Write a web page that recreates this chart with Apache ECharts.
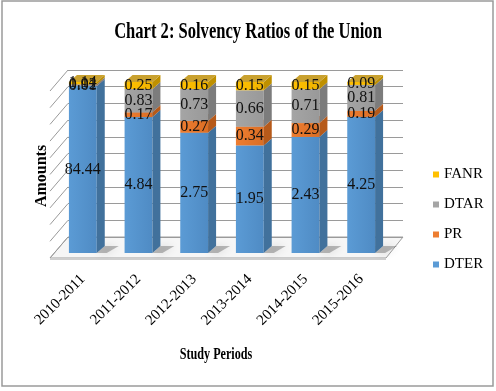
<!DOCTYPE html>
<html><head><meta charset="utf-8">
<script src="https://cdn.jsdelivr.net/npm/echarts@6/dist/echarts.min.js"></script>
<style>html,body{margin:0;padding:0;background:#fff}#c{width:496px;height:391px}</style>
</head><body><div id="c"></div>
<script>
const categories = ['2010-2011','2011-2012','2012-2013','2013-2014','2014-2015','2015-2016'];
const DTER = [84.44, 4.84, 2.75, 1.95, 2.43, 4.25];
const PR   = [0.01, 0.17, 0.27, 0.34, 0.29, 0.19];
const DTAR = [0.92, 0.83, 0.73, 0.66, 0.71, 0.81];
const FANR = [1.14, 0.25, 0.16, 0.15, 0.15, 0.09];
const seriesNames = ['DTER', 'PR', 'DTAR', 'FANR'];
const seriesValues = [DTER, PR, DTAR, FANR];

const faceColors = ['#5B9BD5', '#ED7D31', '#A5A5A5', '#FFC000'];
const faceDark = ['#4F8BC4', '#DB6E24', '#999999', '#F0B400'];
const sideColors = ['#41719C', '#B65A1A', '#7C7C7C', '#BF9000'];
const topColors = ['#6FA8DC', '#F0925A', '#BDBDBD', '#C9A12F'];

const DX = 8, DY = 7, BAR_RATIO = 0.5;
const SERIF = '"Liberation Serif", "Times New Roman", Times, serif';

// 100% stacked boundaries
const totals = categories.map((_, i) => seriesValues.reduce((s, arr) => s + arr[i], 0));
const stackData = [];
const labelData = [];
const cum = categories.map(() => 0);
seriesValues.forEach((arr, si) => {
  const d = [];
  arr.forEach((v, i) => {
    const start = cum[i];
    const end = start + v / totals[i] * 100;
    cum[i] = end;
    d.push([i, start, end, v]);
    labelData.push([i, (start + end) / 2, v, si]);
  });
  stackData.push(d);
});

function renderBar(si) {
  return function (params, api) {
    const cat = api.value(0), s = api.value(1), e = api.value(2);
    const p0 = api.coord([cat, s]);
    const p1 = api.coord([cat, e]);
    const w = api.size([1, 0])[0] * BAR_RATIO;
    const x0 = p0[0] - w / 2, x1 = x0 + w;
    const yb = p0[1], yt = p1[1];
    const children = [];
    if (si === 0) {
      children.push({
        type: 'polygon',
        shape: { points: [[x1, yb], [x1 + DX, yb - DY], [x1 + DX + 14, yb - DY], [x1 + 10, yb]] },
        style: { fill: 'rgba(70,70,70,0.35)', shadowBlur: 8, shadowColor: 'rgba(0,0,0,0.35)' },
        z2: -1
      });
    }
    children.push({
      type: 'rect',
      shape: { x: x0, y: yt, width: w, height: Math.max(yb - yt, 0) },
      style: {
        fill: new echarts.graphic.LinearGradient(0, 0, 1, 0, [
          { offset: 0, color: faceColors[si] }, { offset: 1, color: faceDark[si] }
        ])
      }
    });
    children.push({
      type: 'polygon',
      shape: { points: [[x1, yt], [x1 + DX, yt - DY], [x1 + DX, yb - DY], [x1, yb]] },
      style: { fill: sideColors[si] }
    });
    children.push({
      type: 'polygon',
      shape: { points: [[x0, yt], [x0 + DX, yt - DY], [x1 + DX, yt - DY], [x1, yt]] },
      style: { fill: topColors[si] }
    });
    return { type: 'group', children };
  };
}

const series = seriesNames.map((name, si) => ({
  name,
  type: 'custom',
  xAxisIndex: 0, yAxisIndex: 0,
  z: 2,
  itemStyle: { color: faceColors[si] },
  renderItem: renderBar(si),
  encode: { x: 0, y: [1, 2] },
  data: stackData[si]
}));

series.push({
  name: 'labels',
  type: 'custom',
  xAxisIndex: 0, yAxisIndex: 0,
  z: 5,
  silent: true,
  encode: { x: 0, y: 1 },
  renderItem: function (params, api) {
    const p = api.coord([api.value(0), api.value(1)]);
    return {
      type: 'text',
      style: {
        text: api.value(2).toFixed(2),
        x: p[0], y: p[1],
        align: 'center', verticalAlign: 'middle',
        font: '16px ' + SERIF, fill: '#111'
      }
    };
  },
  data: labelData
});

// decorative 3D walls
const graphics = [];
graphics.push({
  type: 'rect', z: -10,
  shape: { x: 2, y: 1, width: 491, height: 385 },
  style: { fill: 'none', stroke: '#9a9a9a', lineWidth: 1.5 }
});
graphics.push({
  type: 'polygon', z: -5,
  shape: { points: [[50, 258], [386, 258], [403, 237], [68, 237]] },
  style: { fill: '#f6f6f6', stroke: '#a0a0a0', lineWidth: 1 }
});
graphics.push({
  type: 'polygon', z: -5,
  shape: { points: [[50, 258], [386, 258], [386, 260], [50, 260]] },
  style: { fill: '#cfcfcf' }
});
for (let k = 0; k <= 10; k++) {
  const y = 70 + k * 16.7;
  graphics.push({
    type: 'line', z: -5,
    shape: { x1: 68, y1: y, x2: 50, y2: y + 21 },
    style: { stroke: '#9a9a9a', lineWidth: 1 }
  });
}
graphics.push({
  type: 'text', x: 248, y: 32, scaleX: 0.72,
  style: { text: 'Chart 2: Solvency Ratios of the Union', align: 'center', verticalAlign: 'middle',
    font: 'bold 23px ' + SERIF, fill: '#000' }
});
graphics.push({
  type: 'text', x: 42, y: 176, rotation: Math.PI / 2,
  style: { text: 'Amounts', align: 'center', verticalAlign: 'middle',
    font: 'bold 16px ' + SERIF, fill: '#000' }
});
graphics.push({
  type: 'text', x: 216, y: 355, scaleX: 0.76,
  style: { text: 'Study Periods', align: 'center', verticalAlign: 'middle',
    font: 'bold 16px ' + SERIF, fill: '#000' }
});

const chart = echarts.init(document.getElementById('c'), null, { renderer: 'canvas' });
chart.setOption({
  animation: false,
  backgroundColor: '#fff',
  grid: [
    { left: 55, right: 107, top: 82, bottom: 138 },
    { left: 68, right: 93, top: 70, bottom: 154 }
  ],
  xAxis: [
    { type: 'category', gridIndex: 0, data: categories,
      axisLine: { show: false }, axisTick: { show: false },
      axisLabel: { rotate: 45, margin: 24, interval: 0, fontFamily: SERIF, fontSize: 15, color: '#000' } },
    { type: 'category', gridIndex: 1, data: categories, show: false }
  ],
  yAxis: [
    { type: 'value', gridIndex: 0, min: 0, max: 100, show: false },
    { type: 'value', gridIndex: 1, min: 0, max: 100, interval: 10,
      axisLine: { show: false }, axisTick: { show: false }, axisLabel: { show: false },
      splitLine: { lineStyle: { color: '#9a9a9a', width: 1 } } }
  ],
  legend: {
    orient: 'vertical', left: 428, top: 162, itemGap: 15, itemWidth: 6, itemHeight: 6,
    icon: 'rect',
    data: ['FANR', 'DTAR', 'PR', 'DTER'],
    textStyle: { fontFamily: SERIF, fontSize: 15, color: '#000' }
  },
  graphic: graphics,
  series
});
</script>
</body></html>
